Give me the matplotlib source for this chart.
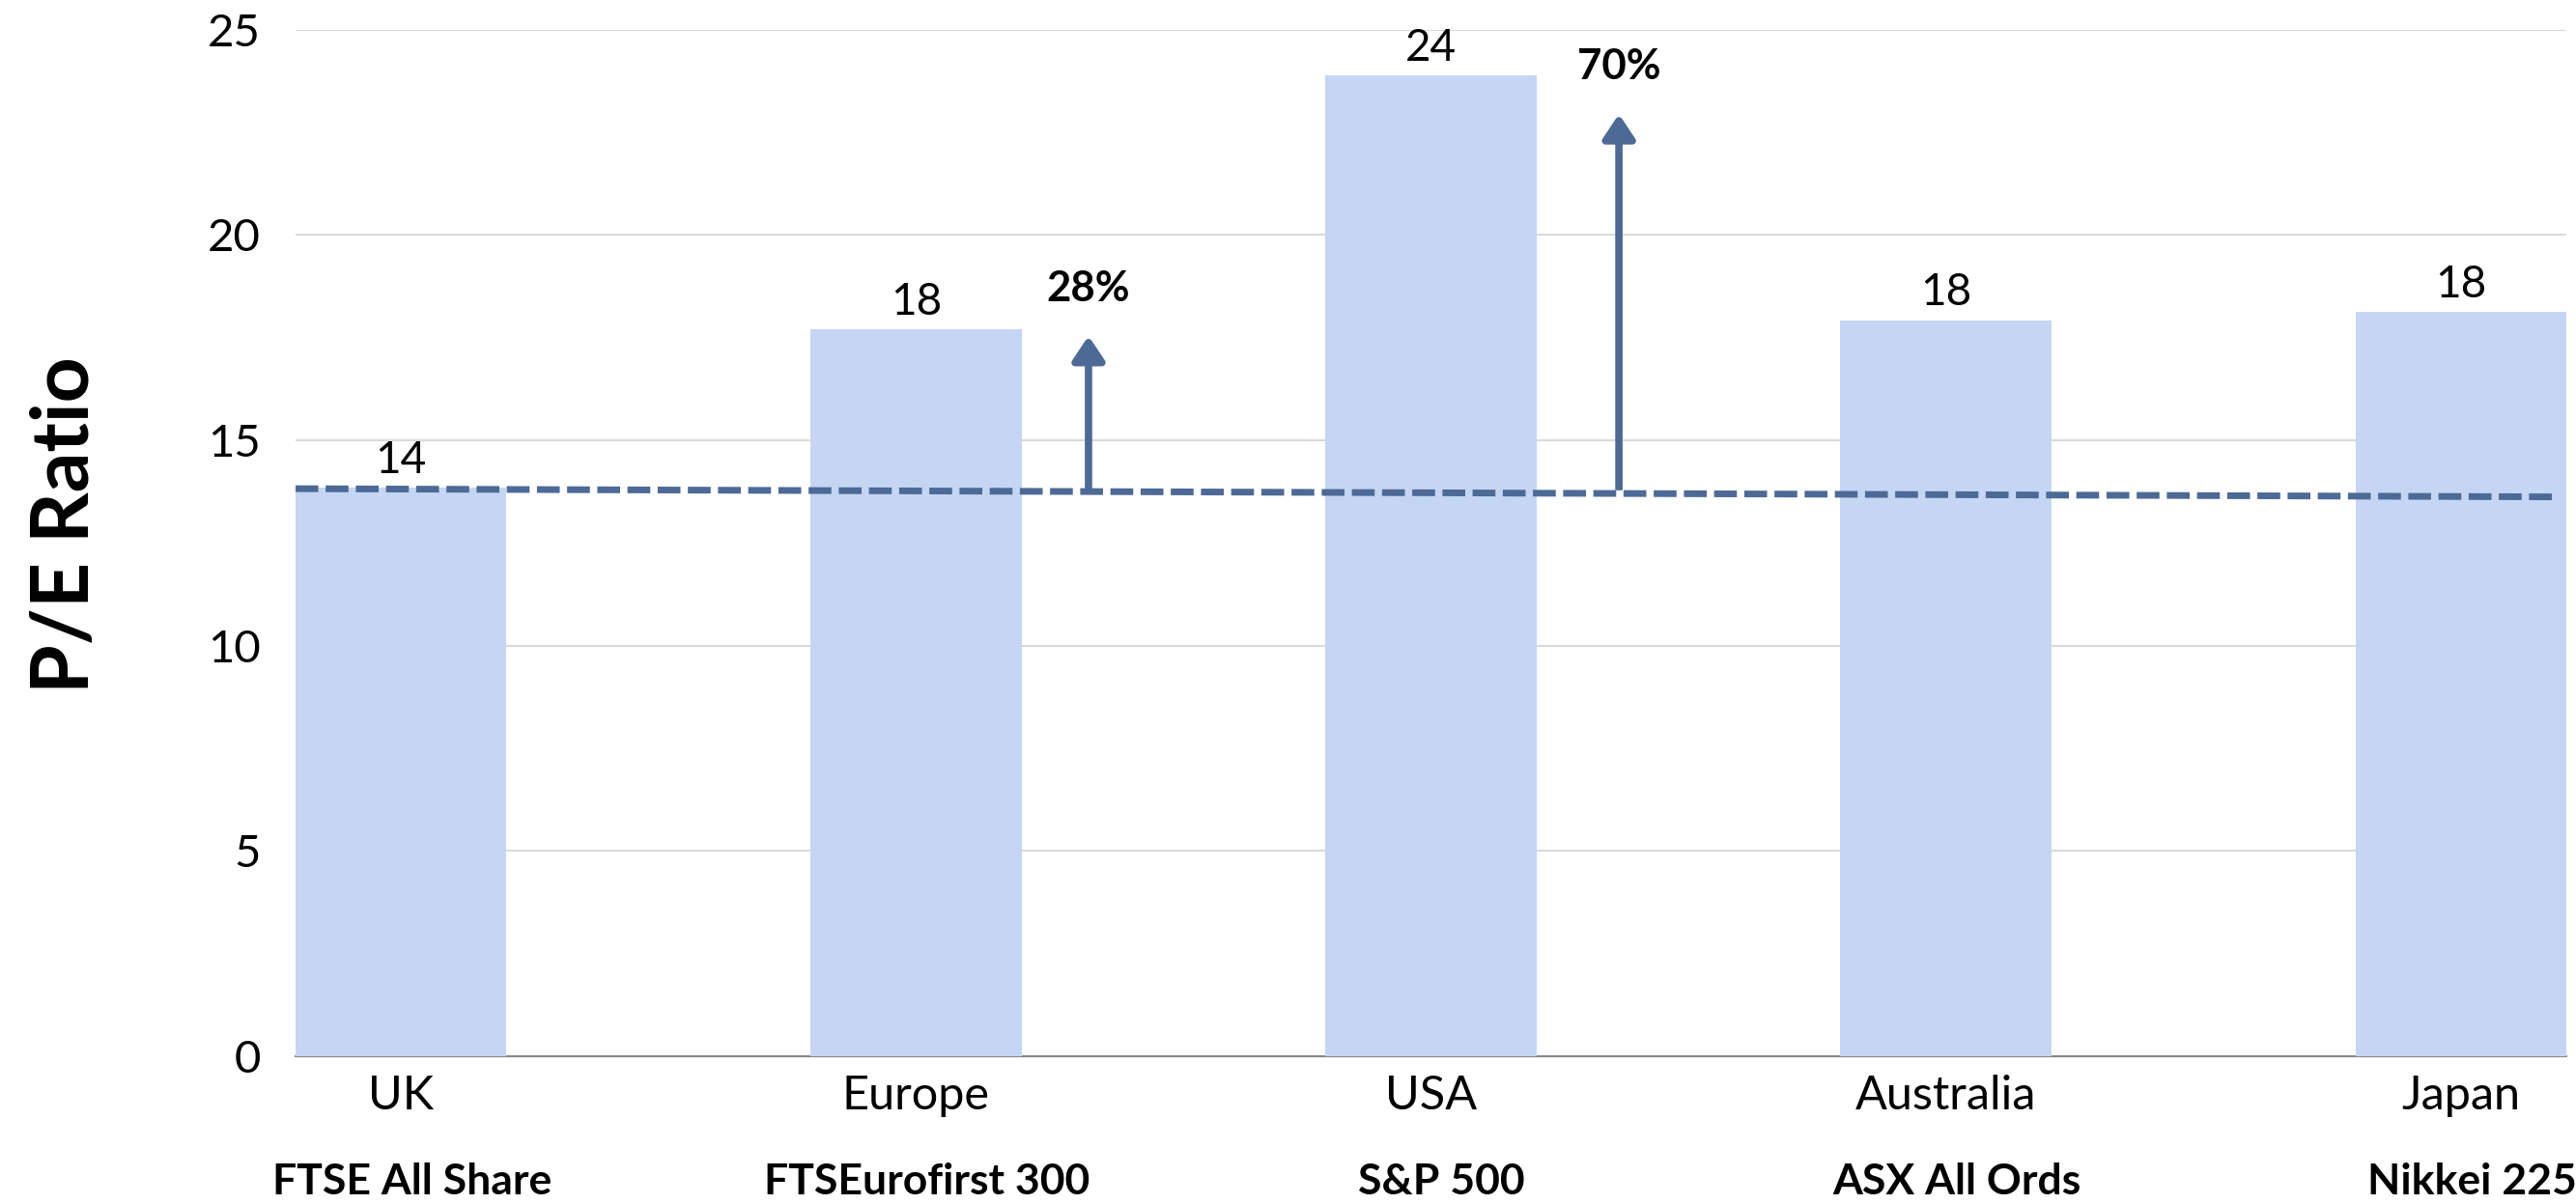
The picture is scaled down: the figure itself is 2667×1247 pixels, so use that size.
import matplotlib
matplotlib.use("Agg")
import matplotlib.pyplot as plt
from matplotlib.patches import FancyArrowPatch
import matplotlib.transforms as mtransforms

plt.rcParams['font.family'] = ['Lato', 'DejaVu Sans']

# ---- data ----
categories = ['UK', 'Europe', 'USA', 'Australia', 'Japan']
index_names = ['FTSE All Share', 'FTSEurofirst 300', 'S&P 500', 'ASX All Ords', 'Nikkei 225']
pe_values = [13.84, 17.70, 23.88, 17.92, 18.12]
value_labels = ['14', '18', '24', '18', '18']
uk_ref_x = [-0.205, 4.19]
uk_ref_y = [13.82, 13.62]
premium_x = [1.335, 2.365]
premium_base = [13.78, 13.78]
premium_tip = [17.54, 22.94]
premium_labels = ['28%', '70%']
yticks = [0, 5, 10, 15, 20, 25]

bar_color = '#C4D6F3'
line_color = '#4D6A96'

fig = plt.figure(figsize=(26.67, 12.47), dpi=100)
ax = fig.add_axes([0.1147, 0.1227, 0.9963 - 0.1147, 0.8528])

x = list(range(len(categories)))
ax.bar(x, pe_values, width=0.41, color=bar_color, zorder=2)

ax.set_xlim(-0.205, 4.205)
ax.set_ylim(0, 25)
ax.set_yticks(yticks)
ax.set_yticklabels([str(t) for t in yticks])
ax.yaxis.grid(True, color='#D9D9D9', linewidth=1.5, zorder=0)
ax.set_axisbelow(True)
for s in ['top', 'right', 'left']:
    ax.spines[s].set_visible(False)
ax.spines['bottom'].set_color('#868686')
ax.spines['bottom'].set_linewidth(1.5)
ax.spines['bottom'].set_zorder(1)

ax.tick_params(axis='y', length=0, pad=26, labelsize=34)
ax.tick_params(axis='x', length=0, pad=14, labelsize=35)
ax.set_xticks(x)
ax.set_xticklabels(categories)

# value labels
for xi, v, lab in zip(x, pe_values, value_labels):
    ax.annotate(lab, xy=(xi, v), xytext=(0, 11), textcoords='offset points',
                ha='center', va='baseline', fontsize=33, zorder=5)

# index sub-labels
trans = mtransforms.blended_transform_factory(ax.transData, ax.transAxes)
for xi, name in zip(x, index_names):
    ax.annotate(name, xy=(xi, -0.122), xycoords=trans, xytext=(8, 0),
                textcoords='offset points', ha='center', va='center',
                fontsize=32, fontweight='bold', annotation_clip=False)

# UK reference dashed line
ax.plot(uk_ref_x, uk_ref_y, color=line_color, linewidth=5, dashes=(3.4, 1.1),
        solid_capstyle='butt', dash_capstyle='butt', zorder=4)

# premium arrows
for px, b, t, lab in zip(premium_x, premium_base, premium_tip, premium_labels):
    arr = FancyArrowPatch((px, b), (px, t),
                          arrowstyle='-|>,head_length=0.75,head_width=0.5',
                          mutation_scale=20, color=line_color, linewidth=5.5,
                          shrinkA=0, shrinkB=0, joinstyle='round', capstyle='butt', zorder=4)
    ax.add_patch(arr)
    ax.annotate(lab, xy=(px, t), xytext=(0, 26), textcoords='offset points',
                ha='center', va='baseline', fontsize=31.5, fontweight='bold', zorder=5)

fig.text(0.0255, 0.5637, 'P/E Ratio', rotation=90, ha='center', va='center',
         fontsize=59, fontweight='bold')

fig.savefig('out.png', dpi=100)
